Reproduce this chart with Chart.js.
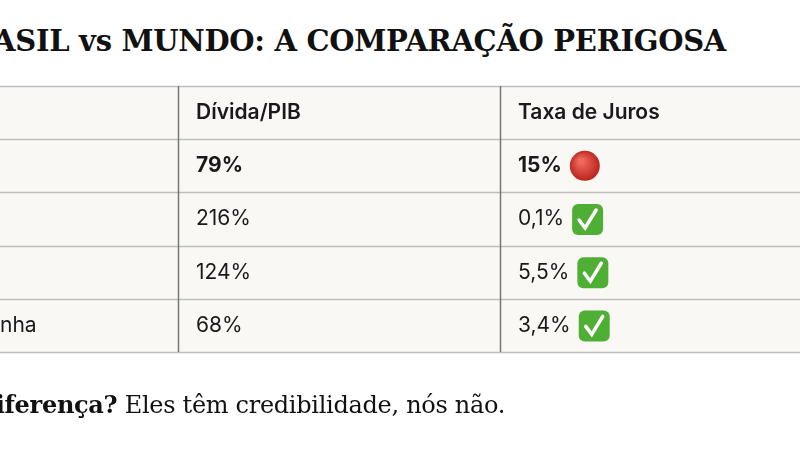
<!DOCTYPE html>
<html>
<head>
<meta charset="utf-8">
<script src="https://cdn.jsdelivr.net/npm/chart.js@4"></script>
<style>
  html, body { margin: 0; width: 800px; height: 450px; overflow: hidden; background: #fff; }
  #title { position: absolute; right: 74px; top: 24px; white-space: nowrap;
    font: bold 29px "DejaVu Serif", serif; color: #111; letter-spacing: -0.3px; }
  #foot { position: absolute; right: 295px; top: 390px; white-space: nowrap;
    font: 24px "DejaVu Serif", serif; color: #111; letter-spacing: -0.3px; }
  #wrap { position: absolute; left: -80px; top: 0; width: 880px; height: 450px; }
</style>
</head>
<body>
<div id="title">BRASIL vs MUNDO: A COMPARAÇÃO PERIGOSA</div>
<div id="wrap"><canvas id="tbl" width="880" height="450"></canvas></div>
<div id="foot"><b>A diferença?</b> Eles têm credibilidade, nós não.</div>
<script>
const headers = ['País', 'Dívida/PIB', 'Taxa de Juros'];
const countries = ['Brasil', 'Japão', 'EUA', 'Alemanha'];
const debtToGdp = [79, 216, 124, 68];
const interestRates = [15, 0.1, 5.5, 3.4];
const status = ['bad', 'ok', 'ok', 'ok'];

// column boundaries on the x scale
const colEdges = [0, 258, 580, 900];
const fmt = v => String(v).replace('.', ',') + '%';

function drawBadge(ctx, kind, x, cy) {
    ctx.save();
    if (kind === 'bad') {
        const g = ctx.createRadialGradient(x + 11, cy - 5, 2, x + 15, cy, 16);
        g.addColorStop(0, '#f06a5a');
        g.addColorStop(1, '#b8201a');
        ctx.fillStyle = g;
        ctx.beginPath();
        ctx.arc(x + 15, cy, 15, 0, Math.PI * 2);
        ctx.fill();
    } else {
        ctx.fillStyle = '#4fae34';
        ctx.beginPath();
        ctx.roundRect(x, cy - 15, 31, 31, 6);
        ctx.fill();
        ctx.strokeStyle = '#fff';
        ctx.lineWidth = 3.5;
        ctx.lineCap = 'round';
        ctx.beginPath();
        ctx.moveTo(x + 7, cy + 1);
        ctx.lineTo(x + 13, cy + 9);
        ctx.lineTo(x + 24, cy - 9);
        ctx.stroke();
    }
    ctx.restore();
}

const tablePlugin = {
    id: 'table',
    afterDraw(chart) {
        const { ctx, scales: { x, y } } = chart;
        const left = x.getPixelForValue(colEdges[0]);
        const right = x.getPixelForValue(colEdges[3]);
        const top = y.getPixelForValue(0);
        const bottom = y.getPixelForValue(countries.length + 1);
        ctx.save();
        ctx.fillStyle = '#f9f8f5';
        ctx.fillRect(left, top, right - left, bottom - top);
        ctx.strokeStyle = '#bdbdbb';
        ctx.lineWidth = 1.5;
        for (let r = 0; r <= countries.length + 1; r++) {
            const py = Math.round(y.getPixelForValue(r)) + 0.5;
            ctx.beginPath(); ctx.moveTo(left, py); ctx.lineTo(right, py); ctx.stroke();
        }
        ctx.strokeStyle = '#777';
        for (let c = 1; c < colEdges.length - 1; c++) {
            const px = Math.round(x.getPixelForValue(colEdges[c])) + 0.5;
            ctx.beginPath(); ctx.moveTo(px, top); ctx.lineTo(px, bottom); ctx.stroke();
        }
        ctx.fillStyle = '#1a1a1a';
        ctx.textBaseline = 'middle';
        const cellX = c => x.getPixelForValue(colEdges[c]) + 18;
        const rowY = r => y.getPixelForValue(r + 0.5);
        ctx.font = '600 21px Inter, sans-serif';
        headers.forEach((h, c) => ctx.fillText(h, cellX(c), rowY(0)));
        countries.forEach((name, i) => {
            const cy = rowY(i + 1);
            ctx.fillStyle = '#1a1a1a';
            ctx.font = (i === 0 ? '700 ' : '400 ') + '21px Inter, sans-serif';
            ctx.fillText(name, cellX(0), cy);
            ctx.fillText(fmt(debtToGdp[i]), cellX(1), cy);
            const t = fmt(interestRates[i]);
            ctx.fillText(t, cellX(2), cy);
            drawBadge(ctx, status[i], cellX(2) + ctx.measureText(t).width + 8, cy);
        });
        ctx.restore();
    }
};

new Chart(document.getElementById('tbl'), {
    type: 'scatter',
    data: { datasets: [{ data: [], pointRadius: 0 }] },
    options: {
        responsive: false,
        animation: false,
        layout: { padding: { top: 86, bottom: 98, left: 0, right: 0 } },
        plugins: { legend: { display: false }, tooltip: { enabled: false } },
        scales: {
            x: { type: 'linear', display: false, min: 0, max: 880 },
            y: { type: 'linear', display: false, min: 0, max: countries.length + 1, reverse: true }
        }
    },
    plugins: [tablePlugin]
});
</script>
</body>
</html>
